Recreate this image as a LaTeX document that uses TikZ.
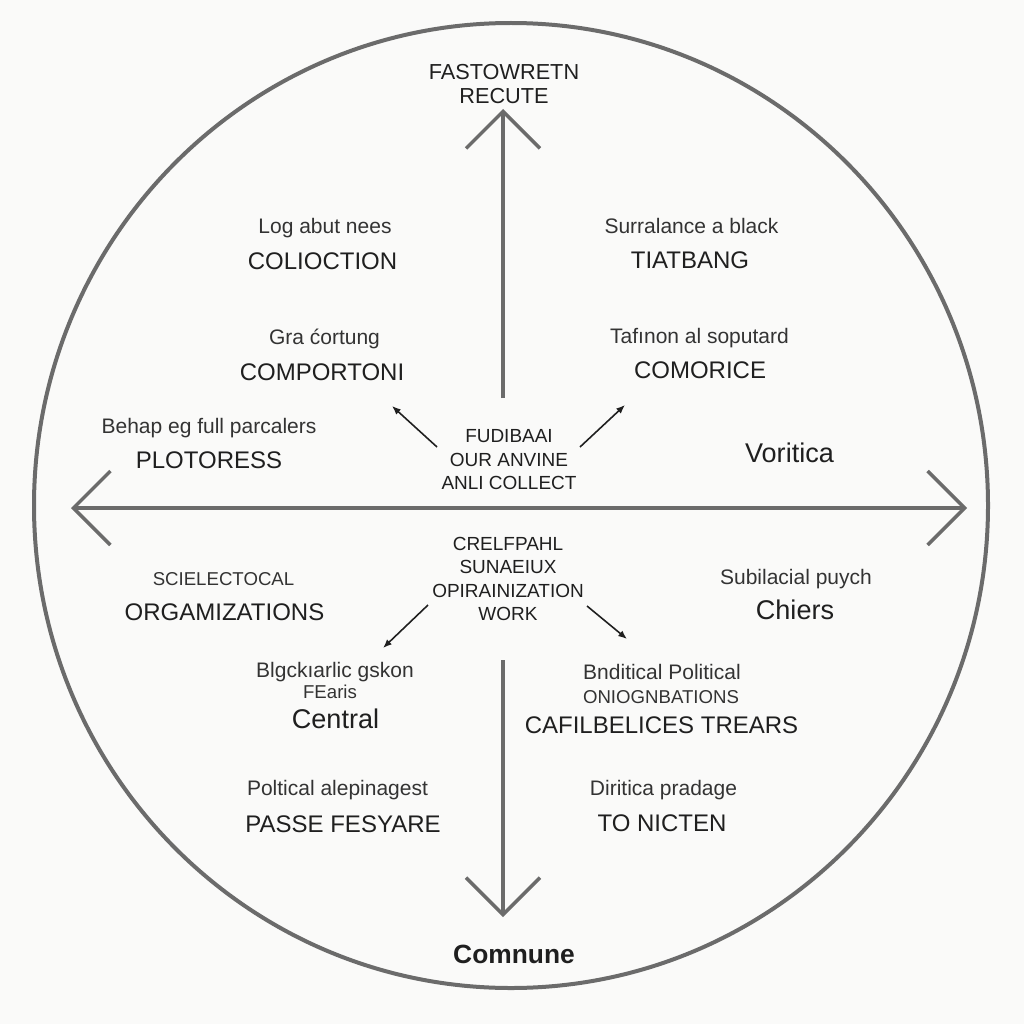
\documentclass[tikz,border=0pt]{standalone}
\usepackage{fontspec}
\setmainfont{Liberation Sans}
\usepackage{tikz}
\usetikzlibrary{arrows.meta}
\definecolor{bgcolor}{rgb}{0.98,0.98,0.975}
\definecolor{rim}{rgb}{0.42,0.42,0.42}
\definecolor{ink}{rgb}{0.12,0.12,0.12}
\definecolor{softink}{rgb}{0.2,0.2,0.2}
\tikzstyle{sub} = [text=softink,anchor=base,inner sep=0pt,font=\fontsize{11.95}{14}\selectfont]
\tikzstyle{ttl} = [text=ink,anchor=base,inner sep=0pt,font=\fontsize{13.66}{16}\selectfont]
\tikzstyle{bigttl} = [ttl,font=\fontsize{15.4}{18}\selectfont]
\tikzstyle{tiny} = [sub,font=\fontsize{10.6}{12}\selectfont]
\tikzstyle{hub} = [text=ink,align=center,inner sep=0pt,font=\fontsize{10.8}{13.4}\selectfont]
\tikzstyle{axis} = [draw=rim,line width=0.07cm]
\tikzstyle{pointer} = [draw=ink,line width=0.9pt,-{Latex[length=5pt,width=4pt]}]
\tikzset{barb/.tip={Straight Barb[length=0.74cm,width=1.48cm]}}

\begin{document}
\begin{tikzpicture}[x=0.02cm,y=-0.02cm]
		\fill[bgcolor] (0,0) rectangle (1024,1024);
		\draw[rim,line width=0.08cm] (511,505.5) ellipse [x radius=477,y radius=482.5];

		\coordinate (west) at (71,508);
		\coordinate (east) at (967,508);
		\coordinate (upfoot) at (503,398);
		\coordinate (uptip) at (503,109);
		\coordinate (downfoot) at (503,660);
		\coordinate (downtip) at (503,917);

		\node [hub,text=ink,font=\fontsize{12.35}{13.66}\selectfont](top) at (504,84){FASTOWRETN\\RECUTE};
		\node [hub](hubtop) at (509,460){FUDIBAAI\\OUR ANVINE\\ANLI COLLECT};
		\node [hub](hubbot) at (508,579){CRELFPAHL\\SUNAEIUX\\OPIRAINIZATION\\WORK};
		\node [ttl,font=\bfseries\fontsize{15}{18}\selectfont](comnune) at (514,963){Comnune};

		\node [sub](s1) at (325,233){Log abut nees};
		\node [ttl](t1) at (322.5,269){COLIOCTION};
		\node [sub](s2) at (324.5,344){Gra ćortung};
		\node [ttl](t2) at (322,380){COMPORTONI};
		\node [sub](s3) at (209,433){Behap eg full parcalers};
		\node [ttl](t3) at (209,468){PLOTORESS};

		\node [sub](s4) at (691.5,233){Surralance a black};
		\node [ttl](t4) at (690,268){TIATBANG};
		\node [sub](s5) at (699.5,343){Tafınon al soputard};
		\node [ttl](t5) at (700,378){COMORICE};
		\node [bigttl](t6) at (789.5,462){Voritica};

		\node [tiny](s7) at (223.5,585){SCIELECTOCAL};
		\node [ttl](t7) at (224.5,620){ORGAMIZATIONS};
		\node [sub](s8) at (335,677){Blgckıarlic gskon};
		\node [tiny](u8) at (330,698){FEaris};
		\node [bigttl](t8) at (335.5,728){Central};
		\node [sub](s9) at (337.5,795){Poltical alepinagest};
		\node [ttl](t9) at (343,832){PASSE FESYARE};

		\node [sub](s10) at (796,584){Subilacial puych};
		\node [bigttl](t10) at (795,619){Chiers};
		\node [sub](s11) at (662,679){Bnditical Political};
		\node [tiny](u11) at (661,703){ONIOGNBATIONS};
		\node [ttl](t11) at (661.5,733){CAFILBELICES TREARS};
		\node [sub](s12) at (663.5,795){Diritica pradage};
		\node [ttl](t12) at (662,831){TO NICTEN};

		\coordinate (nwtail) at (437,447);
		\coordinate (nwhead) at (392,406);
		\coordinate (netail) at (580,447);
		\coordinate (nehead) at (625,405);
		\coordinate (swtail) at (428,605);
		\coordinate (swhead) at (383,648);
		\coordinate (setail) at (587,606);
		\coordinate (sehead) at (627,639);

		\draw[axis,barb-barb](west)--(east);
		\draw[axis,-barb](upfoot)--(uptip);
		\draw[axis,-barb](downfoot)--(downtip);
		\draw[pointer](nwtail)--(nwhead);
		\draw[pointer](netail)--(nehead);
		\draw[pointer](swtail)--(swhead);
		\draw[pointer](setail)--(sehead);
\end{tikzpicture}
\end{document}
